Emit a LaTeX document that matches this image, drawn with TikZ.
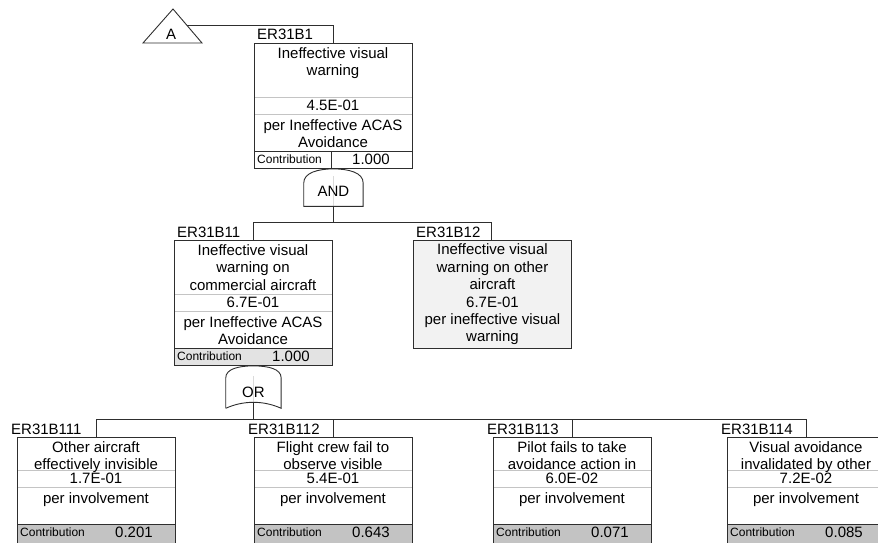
\documentclass[tikz,border=0pt]{standalone}
\usepackage{fontspec}
\setmainfont{Liberation Sans}
\usepackage{xcolor}
\usepackage{tikz}
\usetikzlibrary{positioning}

\definecolor{boxline}{HTML}{2E2E2E}
\definecolor{rowline}{HTML}{C4C4C4}
\definecolor{faintline}{HTML}{DADADA}
\definecolor{contribA}{HTML}{E3E3E3}
\definecolor{contribB}{HTML}{C3C3C3}
\definecolor{houseFill}{HTML}{F2F2F2}

\begin{document}
\begin{tikzpicture}[
  x=1pt,y=-1pt,
  line/.style={draw=boxline,line width=0.9pt},
  sep/.style={draw=rowline,line width=0.8pt},
  evbox/.style={draw=boxline,line width=0.9pt,minimum width=158pt,anchor=north west,inner sep=0pt},
  ttl/.style={align=center,anchor=north,inner xsep=0pt,inner ysep=4pt,font=\fontsize{15}{17.5}\selectfont},
  val/.style={inner sep=0pt,font=\fontsize{15}{17.5}\selectfont},
  small/.style={inner sep=0pt,font=\fontsize{12}{14}\selectfont},
  lbl/.style={inner sep=0pt,anchor=base west,font=\fontsize{15}{17.5}\selectfont},
  gatebox/.style={fill=white,inner sep=0pt,font=\fontsize{15}{17.5}\selectfont,
    path picture={\draw[faintline,line width=0.6pt] (path picture bounding box.north) -- (path picture bounding box.south);}},
  gate/.style={draw=boxline,line width=0.9pt}
]
\useasboundingbox (0,0) rectangle (878,543);
\clip (0,0) rectangle (878,543);

% transfer triangle
\draw[line] (173,9) -- (202,43) -- (143,43) -- cycle;
\node[val] (tA) at (171,34) {A};
\coordinate (tA-out) at (187,25);

% event boxes: id/x/y/title height/height/contribution fill/label shift/title/value/per/contribution
\foreach \id/\x/\y/\tth/\h/\cf/\lx/\ttl/\val/\dsc/\con in {
  1/254/43/54/125/white/3/{Ineffective visual\\warning}/4.5E-01/{per Ineffective ACAS\\Avoidance}/1.000,
  11/174/240/54/125/contribA/3/{Ineffective visual\\warning on\\commercial aircraft}/6.7E-01/{per Ineffective ACAS\\Avoidance}/1.000,
  111/17/437/33/108/contribB/-6/{Other aircraft\\effectively invisible}/1.7E-01/per involvement/0.201,
  112/254/437/33/108/contribB/-6/{Flight crew fail to\\observe visible}/5.4E-01/per involvement/0.643,
  113/493/437/33/108/contribB/-6/{Pilot fails to take\\avoidance action in}/6.0E-02/per involvement/0.071,
  114/727/437/33/108/contribB/-6/{Visual avoidance\\invalidated by other}/7.2E-02/per involvement/0.085}{
  \fill[\cf] (\x,\y+\tth+54) rectangle (\x+158,\y+\h);
  \draw[sep] (\x,\y+\tth) -- ++(158,0) (\x,\y+\tth+17) -- ++(158,0);
  \draw[line] (\x,\y+\tth+54) -- ++(158,0);
  \node[evbox,minimum height=\h pt] (e\id) at (\x,\y) {};
  \node[ttl] (e\id-t) at (\x+79,\y) {\ttl};
  \node[val] (e\id-v) at (\x+79,\y+\tth+8.5) {\val};
  \node[ttl,inner ysep=5pt] (e\id-d) at (\x+79,\y+\tth+17) {\dsc};
  \node[small,anchor=west] (e\id-c) at (\x+3,\y+\tth+62.5) {Contribution};
  \node[val] (e\id-n) at (\x+117,\y+\tth+62.5) {\con};
  \node[lbl] (e\id-lab) at (\x+\lx,\y-3) {ER31B\id};
  \coordinate (e\id-tab) at (\x+79,\y-18);
}
\draw[line] ([xshift=77pt]e1.south west) -- ++(0,-17);

% undeveloped event
\node[evbox,minimum height=108pt,fill=houseFill,align=center,font=\fontsize{15}{17.4}\selectfont] (e12) at (413,240)
  {Ineffective visual\\warning on other\\aircraft\\6.7E-01\\per ineffective visual\\warning};
\node[lbl] (e12-lab) at (416,237) {ER31B12};
\coordinate (e12-tab) at (491,222);

% AND gate
\node[gatebox,minimum width=59pt,minimum height=30pt,below=7pt of e1] (and1) {AND};
\draw[gate] (and1.south west) -- ([yshift=-7pt]and1.north west)
  .. controls ([yshift=3pt]and1.north west) and ([xshift=-16pt,yshift=7pt]and1.north) .. ([yshift=7pt]and1.north)
  .. controls ([xshift=16pt,yshift=7pt]and1.north) and ([yshift=3pt]and1.north east) .. ([yshift=-7pt]and1.north east)
  -- (and1.south east) -- cycle;

% OR gate
\node[gatebox,minimum width=55pt,minimum height=32pt,below=10pt of e11] (or1) {OR};
\draw[gate] (or1.south west) -- ([yshift=-2pt]or1.north west)
  .. controls ([yshift=7pt]or1.north west) and ([xshift=-15pt,yshift=10pt]or1.north) .. ([yshift=10pt]or1.north)
  .. controls ([xshift=15pt,yshift=10pt]or1.north) and ([yshift=7pt]or1.north east) .. ([yshift=-2pt]or1.north east)
  -- (or1.south east)
  .. controls ([xshift=10pt,yshift=8pt]or1.south) and ([xshift=-10pt,yshift=8pt]or1.south) .. (or1.south west);

% connectors
\draw[line] (tA-out) -| (e1-tab |- e1.north);
\draw[line] (and1.south) -- (and1.south |- e11-tab);
\draw[line] (e11-tab |- e11.north) -- (e11-tab) -- (e12-tab) -- (e12-tab |- e12.north);
\draw[line] ([yshift=6pt]or1.south) -- (or1.south |- e111-tab);
\draw[line] (e111-tab) -- (e114-tab);
\foreach \i in {111,112,113,114}
  \draw[line] (e\i-tab) -- (e\i-tab |- e\i.north);
\end{tikzpicture}
\end{document}
